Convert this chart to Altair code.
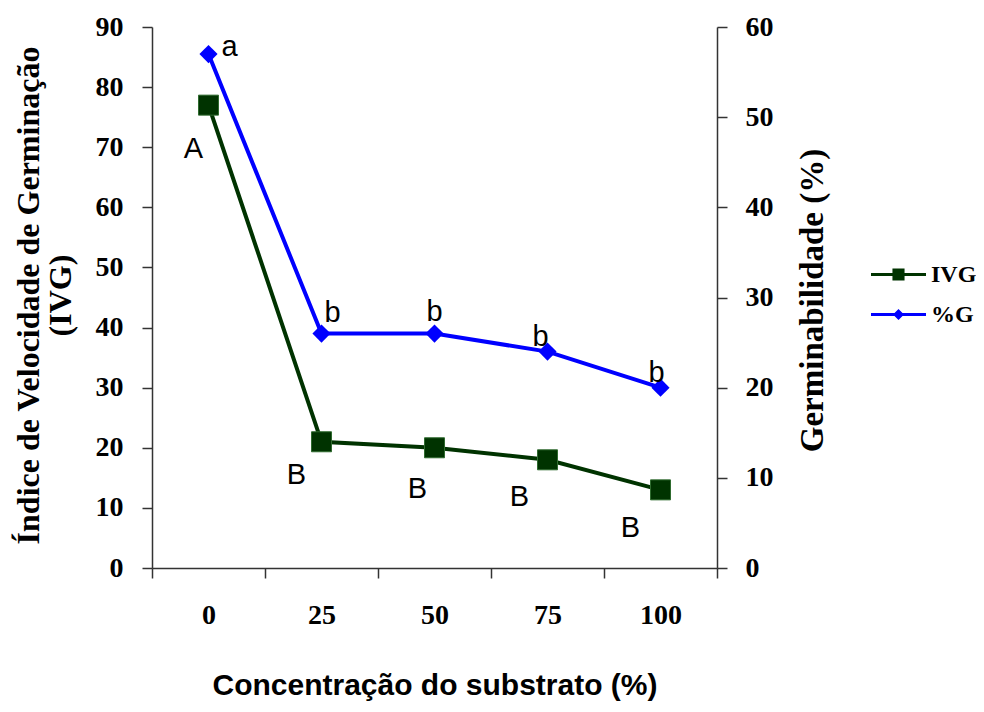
import altair as alt
import pandas as pd

# ---- data ----
conc = ["0", "25", "50", "75", "100"]
ivg = [77, 21, 20, 18, 13]
germ = [57, 26, 26, 24, 20]
ivg_letters = ["A", "B", "B", "B", "B"]
germ_letters = ["a", "b", "b", "b", "b"]
series = ["IVG", "%G"]

GREEN = "#003300"
BLUE = "#0000FF"
SERIF = "Liberation Serif"
SANS = "Liberation Sans"

df = pd.DataFrame({"conc": conc, "ivg": ivg, "germ": germ,
                   "lA": ivg_letters, "lG": germ_letters})

x_enc = alt.X("conc:O", sort=conc,
              scale=alt.Scale(paddingInner=0, paddingOuter=0),
              axis=alt.Axis(title="Concentração do substrato (%)", labelAngle=0,
                            tickBand="extent", tickSize=10, labelPadding=23,
                            labelFont=SERIF, labelFontSize=28, labelFontWeight="bold",
                            titleFont=SANS, titleFontSize=30, titleFontWeight="bold",
                            titleBaseline="alphabetic", titleX=282.5, titleY=126,
                            titleAlign="center"))

y_left = alt.Y("ivg:Q", scale=alt.Scale(domain=[0, 90]),
               axis=alt.Axis(title=["Índice de Velocidade de Germinação", "(IVG)"],
                             values=list(range(0, 91, 10)), grid=False, tickSize=10,
                             labelPadding=19, labelFont=SERIF, labelFontSize=28,
                             labelFontWeight="bold", titleFont=SERIF, titleFontSize=32,
                             titleFontWeight="bold", titleAngle=-90, titleAlign="center",
                             titleBaseline="alphabetic", titleLineHeight=32,
                             titleX=-114, titleY=268, orient="left"))

y_right = alt.Y("germ:Q", scale=alt.Scale(domain=[0, 60]),
                axis=alt.Axis(title="Germinabilidade (%)", values=list(range(0, 61, 10)),
                              grid=False, tickSize=10, labelPadding=18, labelFont=SERIF,
                              labelFontSize=28, labelFontWeight="bold", titleFont=SERIF,
                              titleFontSize=33, titleFontWeight="bold", titleAngle=-90,
                              titleAlign="center", titleBaseline="alphabetic",
                              titleX=105, titleY=273, orient="right"))

base = alt.Chart(df).encode(x=x_enc)

ivg_line = base.mark_line(color=GREEN, strokeWidth=4).encode(y=y_left)
ivg_pts = base.mark_point(shape="square", filled=True, size=400, color=GREEN,
                          opacity=1, stroke="#2f6b2f", strokeWidth=1).encode(y=y_left)

# offsets of the letters relative to each point (style only)
ivg_off = [(-15, 44), (-25, 33), (-17, 41), (-28, 37), (-30, 38)]
germ_off = [(21, -7), (11, -21), (0, -22), (-7, -15), (-4, -15)]

ivg_txt = [base.transform_filter(alt.datum.conc == c)
           .mark_text(font=SANS, fontSize=29, color="black", dx=o[0], dy=o[1])
           .encode(y=y_left, text="lA:N") for c, o in zip(conc, ivg_off)]

germ_line = base.mark_line(color=BLUE, strokeWidth=4).encode(y=y_right)
germ_pts = base.mark_point(shape="diamond", filled=True, size=330, color=BLUE,
                           opacity=1).encode(y=y_right)
germ_txt = [base.transform_filter(alt.datum.conc == c)
            .mark_text(font=SANS, fontSize=29, color="black", dx=o[0], dy=o[1])
            .encode(y=y_right, text="lG:N") for c, o in zip(conc, germ_off)]

left = alt.layer(ivg_line, ivg_pts, *ivg_txt)
right = alt.layer(germ_line, germ_pts, *germ_txt)

path_ivg = "M-1,-0.055H1V0.055H-1Z M-0.22,-0.22H0.22V0.22H-0.22Z"
path_g = "M-1,-0.055H1V0.055H-1Z M0,-0.2L0.2,0L0,0.2L-0.2,0Z"

leg = alt.Legend(title=None, orient="none", legendX=719, legendY=220, padding=0,
                 symbolSize=3025, symbolStrokeWidth=0, labelFont=SERIF,
                 labelFontSize=24, labelFontWeight="bold", labelColor="black",
                 labelOffset=5, rowPadding=-2, symbolOpacity=1)

legend_layer = alt.Chart(df).transform_filter("false").transform_calculate(
    serie="'IVG'").mark_point(filled=True, opacity=1, strokeWidth=0).encode(
    fill=alt.Fill("serie:N", scale=alt.Scale(domain=series, range=[GREEN, BLUE]), legend=leg),
    shape=alt.Shape("serie:N", scale=alt.Scale(domain=series, range=[path_ivg, path_g]), legend=leg),
)

chart = alt.layer(left, right, legend_layer).resolve_scale(y="independent").properties(
    width=565, height=541,
    autosize=alt.AutoSizeParams(type="none"),
    padding={"left": 144, "top": 19, "right": 259, "bottom": 134},
).configure_view(stroke=None).configure_axis(
    domainColor="#333333", tickColor="#333333", domainWidth=1.5, tickWidth=1.5,
    labelColor="black", titleColor="black",
)

chart.save("out.html", embed_options={"renderer": "svg", "actions": False})
